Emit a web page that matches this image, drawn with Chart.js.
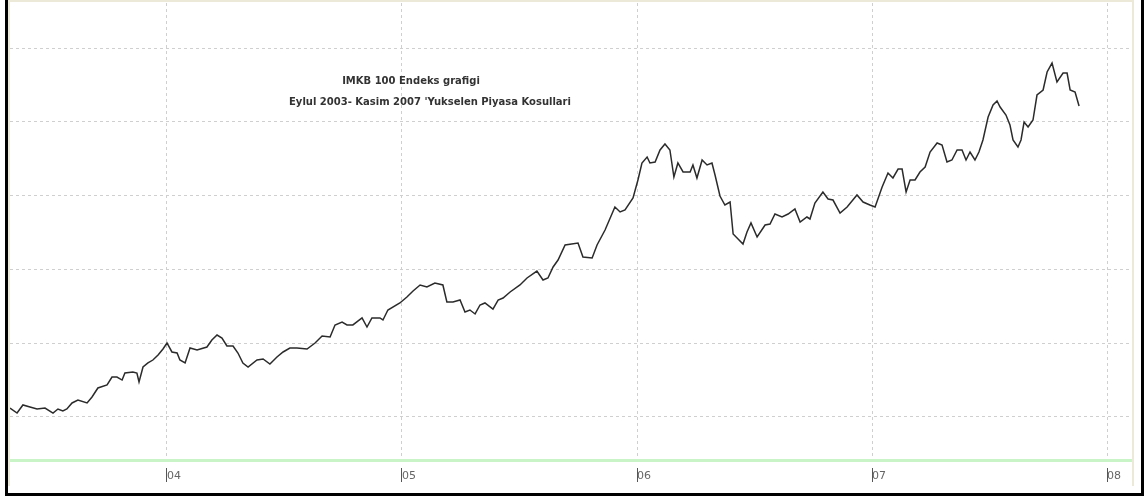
<!DOCTYPE html>
<html>
<head>
<meta charset="utf-8">
<script src="https://cdn.jsdelivr.net/npm/chart.js@4/dist/chart.umd.min.js"></script>
<style>
  body { margin: 0; background: #fff; }
  #wrap { position: relative; width: 1146px; height: 499px; overflow: hidden; }
  #chart { position: absolute; left: 0; top: 0; }
  #frame { position: absolute; left: 5px; top: 0; width: 1139px; height: 496px; box-sizing: border-box;
    border-left: 3px solid #000; border-right: 3px solid #000; border-bottom: 3px solid #000; pointer-events: none; }
  #bevel { position: absolute; left: 8px; top: 0; width: 1126px; height: 486px; box-sizing: border-box;
    border-left: 2px solid #ece9d8; border-right: 2px solid #ece9d8; border-top: 2px solid #ece9d8; pointer-events: none; }
  .title { position: absolute; left: 0; text-align: center; font: bold 10px "DejaVu Sans", sans-serif;
    line-height: 12px; color: #333; white-space: nowrap; }
</style>
</head>
<body>
<div id="wrap">
  <canvas id="chart" width="1146" height="499"></canvas>
  <div id="bevel"></div>
  <div id="frame"></div>
  <div class="title" style="top:75px;width:822px;">IMKB 100 Endeks grafigi</div>
  <div class="title" style="top:96px;width:860px;">Eylul 2003- Kasim 2007 'Yukselen Piyasa Kosullari</div>
</div>
<script>
// weekly-ish readings, x as decimal year
const dates = [
  2003.332, 2003.362, 2003.387, 2003.417, 2003.447, 2003.481, 2003.515, 2003.536, 2003.557, 2003.574,
  2003.596, 2003.621, 2003.660, 2003.681, 2003.706, 2003.745, 2003.766, 2003.787, 2003.809, 2003.821,
  2003.855, 2003.872, 2003.881, 2003.898, 2003.919, 2003.940, 2003.962, 2003.983, 2004.000, 2004.021,
  2004.043, 2004.055, 2004.077, 2004.098, 2004.128, 2004.170, 2004.191, 2004.213, 2004.234, 2004.255,
  2004.281, 2004.302, 2004.323, 2004.345, 2004.383, 2004.409, 2004.438, 2004.468, 2004.494, 2004.523,
  2004.553, 2004.596, 2004.630, 2004.660, 2004.694, 2004.715, 2004.745, 2004.766, 2004.791, 2004.830,
  2004.851, 2004.872, 2004.906, 2004.919, 2004.940, 2004.991, 2005.021, 2005.047, 2005.077, 2005.106,
  2005.140, 2005.174, 2005.191, 2005.217, 2005.247, 2005.268, 2005.289, 2005.311, 2005.332, 2005.353,
  2005.387, 2005.409, 2005.430, 2005.460, 2005.502, 2005.532, 2005.574, 2005.600, 2005.621, 2005.643,
  2005.664, 2005.694, 2005.749, 2005.770, 2005.809, 2005.830, 2005.864, 2005.906, 2005.928, 2005.949,
  2005.983, 2006.004, 2006.021, 2006.043, 2006.055, 2006.077, 2006.098, 2006.119, 2006.140, 2006.157,
  2006.174, 2006.196, 2006.226, 2006.238, 2006.255, 2006.277, 2006.298, 2006.319, 2006.332, 2006.353,
  2006.374, 2006.396, 2006.409, 2006.430, 2006.451, 2006.468, 2006.485, 2006.511, 2006.545, 2006.566,
  2006.587, 2006.617, 2006.643, 2006.672, 2006.694, 2006.723, 2006.736, 2006.757, 2006.791, 2006.813,
  2006.834, 2006.864, 2006.894, 2006.936, 2006.962, 2006.991, 2007.013, 2007.043, 2007.068, 2007.089,
  2007.111, 2007.128, 2007.145, 2007.162, 2007.183, 2007.204, 2007.226, 2007.247, 2007.277, 2007.298,
  2007.319, 2007.340, 2007.362, 2007.383, 2007.400, 2007.417, 2007.438, 2007.455, 2007.472, 2007.494,
  2007.515, 2007.532, 2007.545, 2007.570, 2007.587, 2007.600, 2007.621, 2007.634, 2007.647, 2007.664,
  2007.685, 2007.702, 2007.728, 2007.745, 2007.766, 2007.787, 2007.813, 2007.830, 2007.843, 2007.864, 2007.881
];

const imkb100 = [
  11220, 10540, 11630, 11355, 11085, 11220, 10540, 11085, 10815, 11085,
  11900, 12300, 11900, 12710, 13930, 14340, 15420, 15420, 15010, 15960,
  16100, 15960, 14740, 16775, 17320, 17720, 18400, 19215, 20030, 18810,
  18670, 17720, 17320, 19350, 19080, 19485, 20430, 21110, 20705, 19620,
  19620, 18670, 17320, 16775, 17720, 17860, 17180, 18130, 18810, 19350,
  19350, 19215, 20030, 20975, 20840, 22470, 22870, 22470, 22470, 23415,
  22195, 23415, 23415, 23145, 24500, 25450, 26260, 27070, 27890, 27615,
  28160, 27890, 25580, 25580, 25850, 24230, 24500, 23960, 25180, 25450,
  24630, 25850, 26125, 26940, 27890, 28835, 29780, 28560, 28835, 30325,
  31270, 33305, 33580, 31680, 31545, 33305, 35340, 38455, 37780, 38050,
  39675, 42115, 44420, 45230, 44420, 44550, 46180, 46990, 46180, 42520,
  44420, 43200, 43200, 44150, 42385, 44825, 44150, 44420, 42790, 39945,
  38725, 39130, 34800, 34120, 33440, 35070, 36290, 34390, 36015, 36150,
  37505, 37100, 37505, 38185, 36420, 37100, 36830, 39000, 40490, 39540,
  39400, 37640, 38455, 40080, 39130, 38725, 38455, 41165, 43060, 42385,
  43600, 43600, 40490, 42115, 42115, 43200, 43875, 45910, 47125, 46855,
  44550, 44825, 46180, 46180, 44825, 45910, 44825, 45910, 47535, 50650,
  52275, 52820, 52005, 50920, 49565, 47535, 46585, 47535, 49970, 49295,
  50245, 53630, 54310, 56750, 57965, 55390, 56610, 56610, 54310, 54040, 52140
];

const tickYears = [2004, 2005, 2006, 2007, 2008];
const tickLabels = ["04", "05", "06", "07", "08"];
const yGrid = [10000, 20000, 30000, 40000, 50000, 60000];

const points = dates.map((d, i) => ({ x: d, y: imkb100[i] }));

const config = {
  type: "line",
  data: {
    datasets: [
      {
        label: "IMKB 100",
        data: points,
        borderColor: "#2b2b2b",
        borderWidth: 1.5,
        pointRadius: 0,
        tension: 0,
        fill: false,
      },
    ],
  },
  options: {
    responsive: false,
    animation: false,
    layout: { padding: { left: 10, right: 15, top: 3, bottom: 0 } },
    plugins: { legend: { display: false }, tooltip: { enabled: false } },
    scales: {
      x: {
        type: "linear",
        min: 2003.332,
        max: 2008.102,
        afterBuildTicks: (s) => { s.ticks = tickYears.map((v) => ({ value: v })); },
        afterFit: (s) => { s.height = 39; },
        grid: {
          color: "#cfcfcf",
          lineWidth: 1,
          drawTicks: true,
          tickLength: 22,
          tickColor: "#555",
          tickWidth: 1,
          tickBorderDash: [16, 6],
          tickBorderDashOffset: 16,
        },
        border: { display: true, color: "#c8f4c8", width: 3, dash: [3, 3] },
        ticks: {
          callback: (v) => tickLabels[tickYears.indexOf(v)],
          font: { family: "DejaVu Sans", size: 11 },
          color: "#666",
          padding: -12,
          labelOffset: 7,
          maxRotation: 0,
          autoSkip: false,
        },
      },
      y: {
        min: 4173,
        max: 66098,
        afterBuildTicks: (s) => { s.ticks = yGrid.map((v) => ({ value: v })); },
        afterFit: (s) => { s.width = 0; },
        ticks: { display: false },
        grid: { color: "#cfcfcf", lineWidth: 1, drawTicks: false },
        border: { display: false, dash: [3, 3] },
      },
    },
  },
};

const imkbChart = new Chart(document.getElementById("chart"), config);
</script>
</body>
</html>
